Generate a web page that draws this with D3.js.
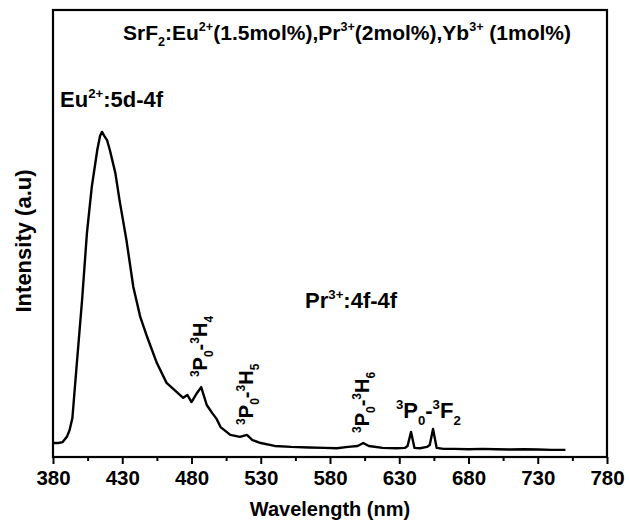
<!DOCTYPE html>
<html lang="en">
  <head>
    <meta charset="UTF-8" />
    <title>SrF2:Eu,Pr,Yb emission spectrum</title>
    <script src="https://d3js.org/d3.v7.min.js"></script>
    <style>
      body {
        margin: 0;
        background: #fff;
        font-family: "Liberation Sans", Arial, sans-serif;
      }
      text {
        font-weight: bold;
        fill: #000;
      }
      .line {
        fill: none;
      }
    </style>
  </head>
  <body>
    <svg width="630" height="522" id="chart"></svg>

    <script>
      // emission spectrum (normalised, peak = 1)
      const wavelength = [
        380, 384, 387, 390, 392, 394, 397, 401, 404.5, 408, 412, 414, 415.4,
        417, 419, 421, 425, 428, 433, 438, 443, 448, 455, 462, 470, 474, 477,
        480, 484, 487, 491, 495, 498, 501, 508, 515, 520, 524, 530, 540, 552,
        565, 576, 585, 593, 600, 604, 608, 618, 628, 634, 636, 638.5, 641, 645,
        650, 652, 654.4, 657, 662, 670, 680, 690, 700, 710, 720, 730, 740, 750,
      ];
      const intensity = [
        0.043, 0.043, 0.046, 0.062, 0.083, 0.12, 0.277, 0.483, 0.689, 0.831,
        0.945, 0.988, 1.0, 0.988, 0.975, 0.945, 0.874, 0.791, 0.668, 0.523,
        0.431, 0.369, 0.289, 0.228, 0.197, 0.182, 0.191, 0.169, 0.197, 0.215,
        0.16, 0.135, 0.118, 0.092, 0.068, 0.062, 0.068, 0.052, 0.043, 0.034,
        0.031, 0.029, 0.028, 0.027, 0.031, 0.034, 0.043, 0.034, 0.028, 0.027,
        0.028, 0.034, 0.077, 0.028, 0.027, 0.031, 0.037, 0.086, 0.028, 0.025,
        0.025, 0.024, 0.025, 0.024, 0.023, 0.024, 0.023, 0.022, 0.022,
      ];
      const xTicks = [380, 430, 480, 530, 580, 630, 680, 730, 780];
      const xMinorTicks = [405, 455, 505, 555, 605, 655, 705, 755];

      // annotations: [text, sup/sub flag] parts
      const titleParts = [
        ["SrF", ""], ["2", "sub"], [":Eu", ""], ["2+", "sup"],
        ["(1.5mol%),Pr", ""], ["3+", "sup"], ["(2mol%),Yb", ""],
        ["3+", "sup"], [" (1mol%)", ""],
      ];
      const euParts = [["Eu", ""], ["2+", "sup"], [":5d-4f", ""]];
      const prParts = [["Pr", ""], ["3+", "sup"], [":4f-4f", ""]];
      const transitions = [
        { lambda: 487, label: "H", j: "4", rotated: true },
        { lambda: 520, label: "H", j: "5", rotated: true },
        { lambda: 604, label: "H", j: "6", rotated: true },
        { lambda: 651, label: "F", j: "2", rotated: false },
      ];

      const svg = d3.select("#chart");
      const margins = { top: 10, right: 23, bottom: 65, left: 53 };
      const width = +svg.attr("width");
      const height = +svg.attr("height");
      const chartWidth = width - margins.left - margins.right;
      const chartHeight = height - margins.top - margins.bottom;

      const chartArea = svg
        .append("g")
        .attr("transform", `translate(${margins.left},${margins.top})`);

      const xScale = d3.scaleLinear().domain([380, 780]).range([0, chartWidth]);
      const yScale = d3.scaleLinear().domain([0, 1.375]).range([chartHeight, 0]);

      // bottom axis, major + minor ticks
      const xAxis = d3
        .axisBottom(xScale)
        .tickValues(xTicks)
        .tickFormat(d3.format("d"))
        .tickSize(7)
        .tickPadding(6);
      const xAxisG = chartArea
        .append("g")
        .attr("transform", `translate(0,${chartHeight})`)
        .call(xAxis);
      xAxisG.select(".domain").remove();
      xAxisG.selectAll(".tick line").attr("stroke", "#000").attr("stroke-width", 2);
      xAxisG
        .selectAll(".tick text")
        .attr("font-size", 20.5)
        .attr("font-family", "Liberation Sans, Arial, sans-serif")
        .attr("font-weight", "bold");

      chartArea
        .append("g")
        .attr("transform", `translate(0,${chartHeight})`)
        .call(d3.axisBottom(xScale).tickValues(xMinorTicks).tickSize(4).tickFormat(""))
        .call((g) => g.select(".domain").remove())
        .selectAll(".tick line")
        .attr("stroke", "#000")
        .attr("stroke-width", 2);

      // frame
      chartArea
        .append("rect")
        .attr("width", chartWidth)
        .attr("height", chartHeight)
        .attr("fill", "none")
        .attr("stroke", "#000")
        .attr("stroke-width", 2.2);

      // spectrum
      const data = wavelength.map((w, i) => ({ w, v: intensity[i] }));
      const lineGen = d3
        .line()
        .x((d) => xScale(d.w))
        .y((d) => yScale(d.v));
      chartArea
        .append("path")
        .datum(data)
        .attr("class", "line")
        .attr("stroke", "#000")
        .attr("stroke-width", 2.4)
        .attr("stroke-linejoin", "round")
        .attr("d", lineGen);

      // text with super/subscripts
      function richText(sel, parts, size) {
        let shift = 0;
        parts.forEach(([t, kind]) => {
          const target = kind === "sup" ? -0.42 * size : kind === "sub" ? 0.3 * size : 0;
          sel
            .append("tspan")
            .attr("dy", target - shift)
            .attr("font-size", kind ? size * 0.6 : size)
            .text(t);
          shift = target;
        });
      }

      const title = svg
        .append("text")
        .attr("x", (122 + 572) / 2)
        .attr("y", 40)
        .attr("text-anchor", "middle");
      richText(title, titleParts, 21);

      const eu = svg.append("text").attr("x", 60).attr("y", 107);
      richText(eu, euParts, 22);

      const pr = chartArea
        .append("text")
        .attr("x", xScale(562))
        .attr("y", 298);
      richText(pr, prParts, 22);

      // 3P0 - 3X transition labels
      transitions.forEach((t) => {
        const parts = [
          ["3", "sup"], ["P", ""], ["0", "sub"], ["-", ""],
          ["3", "sup"], [t.label, ""], [t.j, "sub"],
        ];
        const x = xScale(t.lambda);
        let el;
        if (t.rotated) {
          const base = yScale(data.find((d) => d.w >= t.lambda).v) - 10;
          el = chartArea
            .append("text")
            .attr("transform", `translate(${x + 6},${base}) rotate(-90)`);
          richText(el, parts, 20);
        } else {
          el = chartArea
            .append("text")
            .attr("x", x)
            .attr("y", yScale(0.12) + 0.5)
            .attr("text-anchor", "middle");
          richText(el, parts, 22);
        }
      });

      // axis titles
      svg
        .append("text")
        .attr("x", margins.left + chartWidth / 2)
        .attr("y", height - 6)
        .attr("text-anchor", "middle")
        .attr("font-size", 20)
        .text("Wavelength (nm)");

      svg
        .append("text")
        .attr("transform", `translate(31,241) rotate(-90)`)
        .attr("text-anchor", "middle")
        .attr("font-size", 22)
        .text("Intensity (a.u)");
    </script>
  </body>
</html>
